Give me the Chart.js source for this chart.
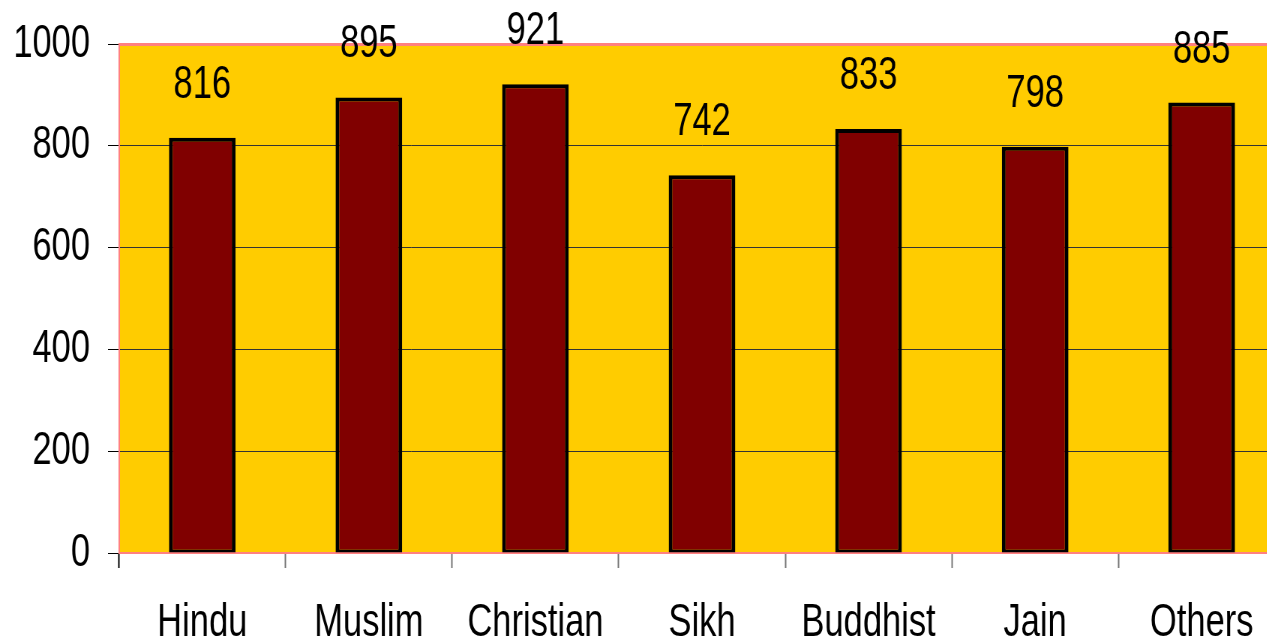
<!DOCTYPE html>
<html>
<head>
<meta charset="utf-8">
<script src="https://cdn.jsdelivr.net/npm/chart.js@4/dist/chart.umd.min.js"></script>
<style>
html,body{margin:0;padding:0;background:#fff;overflow:hidden;}
#wrap{width:1720px;height:643px;position:absolute;left:0;top:0;transform:scaleX(0.75);transform-origin:0 0;}
canvas{display:block;}
</style>
</head>
<body>
<div id="wrap"><canvas id="c" width="1720" height="643"></canvas></div>
<script>
const categories = ["Hindu","Muslim","Christian","Sikh","Buddhist","Jain","Others"];
const values = [816, 895, 921, 742, 833, 798, 885];
const yTicks = [0, 200, 400, 600, 800, 1000];

const FONT = "'Liberation Sans', Arial, sans-serif";
const SX = 0.75; // horizontal condensing of the whole drawing

const plotBg = {
  id: 'plotBg',
  beforeDraw(chart) {
    const {ctx, chartArea: a} = chart;
    ctx.save();
    ctx.fillStyle = '#FFCC00';
    ctx.fillRect(a.left, a.top, a.right - a.left, a.bottom - a.top);
    ctx.restore();
  }
};

const valueLabels = {
  id: 'valueLabels',
  afterDatasetsDraw(chart) {
    const {ctx} = chart;
    const meta = chart.getDatasetMeta(0);
    ctx.save();
    ctx.font = '46px ' + FONT;
    ctx.fillStyle = '#000';
    ctx.textAlign = 'center';
    ctx.textBaseline = 'alphabetic';
    meta.data.forEach((bar, i) => {
      ctx.fillText(String(values[i]), bar.x, bar.y - 40);
    });
    ctx.restore();
  }
};

new Chart(document.getElementById('c'), {
  type: 'bar',
  data: {
    labels: categories,
    datasets: [{
      data: values,
      backgroundColor: '#800000',
      borderColor: '#000000',
      borderWidth: { top: 4, bottom: 3, left: 5, right: 5 },
      borderSkipped: false,
      categoryPercentage: 1.0,
      barPercentage: 0.4
    }]
  },
  options: {
    responsive: false,
    animation: false,
    devicePixelRatio: 1,
    layout: { padding: { top: 44, right: 5 / SX, left: 0, bottom: 0 } },
    plugins: { legend: { display: false }, tooltip: { enabled: false } },
    scales: {
      x: {
        grid: {
          offset: true,
          drawOnChartArea: false,
          drawTicks: true,
          tickLength: 15,
          tickColor: (c) => c.index === 0 ? '#000' : '#777',
          tickWidth: 2
        },
        border: { display: true, color: '#ff8080', width: 2 },
        ticks: {
          color: '#000',
          font: { family: FONT, size: 46 },
          padding: 28,
          maxRotation: 0,
          autoSkip: false
        },
        afterFit(s) { s.height = 90; s.paddingLeft = 0; s.paddingRight = 0; }
      },
      y: {
        min: 0,
        max: 1000,
        afterBuildTicks(s) { s.ticks = yTicks.map(v => ({ value: v })); },
        grid: {
          color: (c) => (c.tick && (c.tick.value === 1000 || c.tick.value === 0)) ? '#ff8080' : '#333',
          lineWidth: (c) => (c.tick && c.tick.value === 1000) ? 3 : 1,
          tickColor: '#000',
          tickLength: 11 / SX,
          tickWidth: 1
        },
        border: { display: true, color: '#ff8080', width: 2 },
        ticks: {
          color: '#000',
          font: { family: FONT, size: 46 },
          padding: 24,
          callback: (v) => String(v)
        },
        afterFit(s) { s.width = 119 / SX; s.paddingTop = 0; s.paddingBottom = 0; }
      }
    }
  },
  plugins: [plotBg, valueLabels]
});
</script>
</body>
</html>
